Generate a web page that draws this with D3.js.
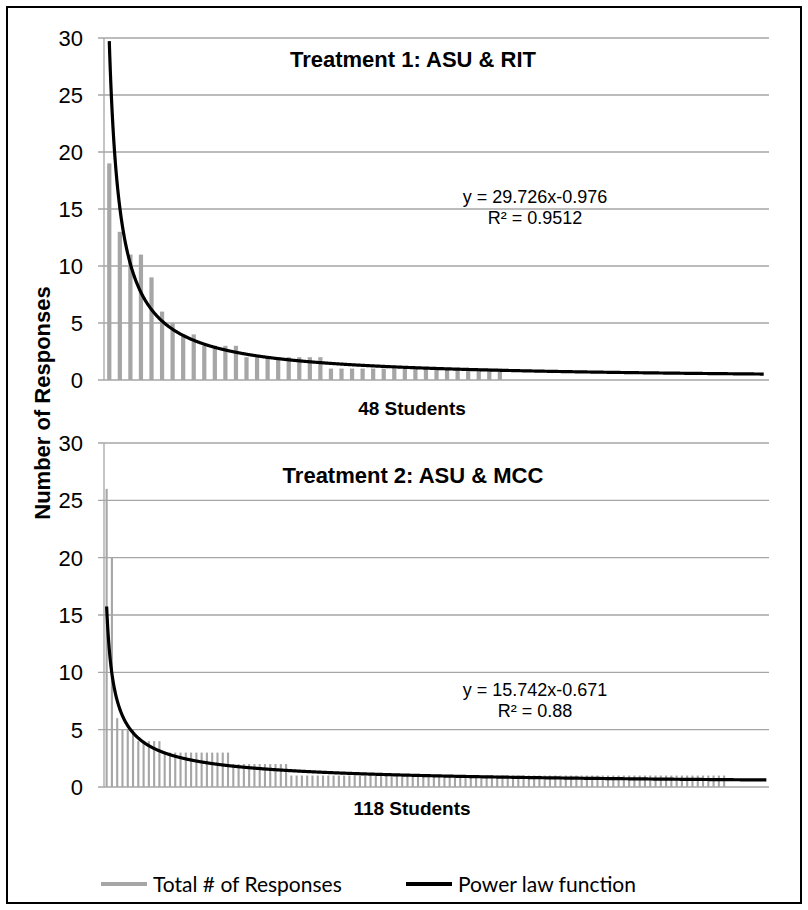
<!DOCTYPE html>
<html>
<head>
<meta charset="utf-8">
<script src="https://cdn.jsdelivr.net/npm/d3@7"></script>
<style>
  body { margin: 0; background: #fff; }
  svg { display: block; }
</style>
</head>
<body>
<svg id="chart" width="808" height="910"></svg>
<script>
// ── Data ───────────────────────────────────────────────
const yTicks = [0, 5, 10, 15, 20, 25, 30];

// Treatment 1 (ASU & RIT): responses per student, sorted
const topCounts = [19, 13, 11, 11, 9, 6, 5, 4, 4, 3, 3, 3, 3,
    2, 2, 2, 2, 2, 2, 2, 2,
    1, 1, 1, 1, 1, 1, 1, 1, 1, 1, 1, 1, 1, 1, 1, 1, 1];
const topSlots = 63;            // category slots on the x axis
const topFit = { a: 29.726, b: -0.976, r2: '0.9512' };

// Treatment 2 (ASU & MCC)
const bottomCounts = [26, 20, 6, 5, 5, 5, 4, 4, 4, 4, 4,
    3, 3, 3, 3, 3, 3, 3, 3, 3, 3, 3, 3, 3,
    2, 2, 2, 2, 2, 2, 2, 2, 2, 2, 2,
    1, 1, 1, 1, 1, 1, 1, 1, 1, 1, 1, 1, 1, 1, 1, 1, 1, 1, 1, 1,
    1, 1, 1, 1, 1, 1, 1, 1, 1, 1, 1, 1, 1, 1, 1, 1, 1, 1, 1, 1,
    1, 1, 1, 1, 1, 1, 1, 1, 1, 1, 1, 1, 1, 1, 1, 1, 1, 1, 1, 1,
    1, 1, 1, 1, 1, 1, 1, 1, 1, 1, 1, 1, 1, 1, 1, 1, 1, 1, 1, 1,
    1, 1, 1];
const bottomSlots = 126;
const bottomFit = { a: 15.742, b: -0.671, r2: '0.88' };

const panels = [
    { title: 'Treatment 1: ASU & RIT', xLabel: '48 Students', counts: topCounts,
      slots: topSlots, fit: topFit, top: 38, bottom: 380, titleY: 59, labelY: 408, eqY: 197 },
    { title: 'Treatment 2: ASU & MCC', xLabel: '118 Students', counts: bottomCounts,
      slots: bottomSlots, fit: bottomFit, top: 443, bottom: 787, titleY: 475, labelY: 808, eqY: 690 },
];

const GRID = '#a6a6a6';
const BAR = '#a6a6a6';
const FONT = 'Arial, "Liberation Sans", sans-serif';

const svg = d3.select('#chart');

// outer frame
svg.append('rect')
    .attr('x', 7).attr('y', 7).attr('width', 794).attr('height', 896)
    .attr('fill', '#fff').attr('stroke', '#000').attr('stroke-width', 2);

const left = 104, right = 769;

panels.forEach(function(p) {
    const g = svg.append('g');
    const y = d3.scaleLinear().domain([0, 30]).range([p.bottom, p.top]);
    const idx = d3.range(1, p.slots + 1);
    const x = d3.scaleBand().domain(idx).range([left, right]).paddingInner(0.6).paddingOuter(0.3);
    const xc = d3.scaleLinear().domain([0.5, p.slots + 0.5]).range([left, right]);

    // gridlines + tick stubs
    g.selectAll('line.grid').data(yTicks).join('line')
        .attr('x1', left - 6).attr('x2', right)
        .attr('y1', d => y(d)).attr('y2', d => y(d))
        .attr('stroke', GRID).attr('stroke-width', 1.3);

    g.append('line')
        .attr('x1', left).attr('x2', left)
        .attr('y1', y(30)).attr('y2', y(0))
        .attr('stroke', GRID).attr('stroke-width', 1.3);

    g.selectAll('text.tick').data(yTicks).join('text')
        .attr('x', 83).attr('y', d => y(d))
        .attr('dy', '0.36em')
        .attr('text-anchor', 'end')
        .attr('font-family', FONT).attr('font-size', 22)
        .attr('fill', '#000')
        .text(d => d);

    // bars
    g.selectAll('rect.bar').data(p.counts).join('rect')
        .attr('x', (d, i) => x(i + 1))
        .attr('width', x.bandwidth())
        .attr('y', d => y(d))
        .attr('height', d => y(0) - y(d))
        .attr('fill', BAR);

    // power-law trendline from the fitted equation
    const line = d3.line()
        .x(d => xc(d))
        .y(d => y(p.fit.a * Math.pow(d, p.fit.b)));
    const pts = d3.range(1, p.slots + 0.001, 0.05);
    g.append('path')
        .attr('d', line(pts))
        .attr('fill', 'none')
        .attr('stroke', '#000')
        .attr('stroke-width', 3.2);

    // title
    g.append('text')
        .attr('x', 413).attr('y', p.titleY)
        .attr('dy', '0.36em')
        .attr('text-anchor', 'middle')
        .attr('font-family', FONT).attr('font-weight', 'bold').attr('font-size', 22)
        .text(p.title);

    // equation
    g.append('text')
        .attr('x', 535).attr('y', p.eqY)
        .attr('dy', '0.36em')
        .attr('text-anchor', 'middle')
        .attr('font-family', FONT).attr('font-size', 18)
        .text('y = ' + p.fit.a + 'x' + p.fit.b);
    g.append('text')
        .attr('x', 535).attr('y', p.eqY + 21)
        .attr('dy', '0.36em')
        .attr('text-anchor', 'middle')
        .attr('font-family', FONT).attr('font-size', 18)
        .text('R\u00b2 = ' + p.fit.r2);

    // x label
    g.append('text')
        .attr('x', 412).attr('y', p.labelY)
        .attr('dy', '0.36em')
        .attr('text-anchor', 'middle')
        .attr('font-family', FONT).attr('font-weight', 'bold').attr('font-size', 19)
        .text(p.xLabel);
});

// y axis title
svg.append('text')
    .attr('transform', 'translate(42,403) rotate(-90)')
    .attr('dy', '0.36em')
    .attr('text-anchor', 'middle')
    .attr('font-family', FONT).attr('font-weight', 'bold').attr('font-size', 22)
    .text('Number of Responses');

// legend
const legend = [
    { label: 'Total # of Responses', color: BAR, w: 4, x: 101 },
    { label: 'Power law function', color: '#000', w: 4, x: 406 },
];
const lg = svg.append('g');
legend.forEach(function(l) {
    lg.append('line')
        .attr('x1', l.x).attr('x2', l.x + 46)
        .attr('y1', 884).attr('y2', 884)
        .attr('stroke', l.color).attr('stroke-width', l.w);
    lg.append('text')
        .attr('x', l.x + 52).attr('y', 884)
        .attr('dy', '0.36em')
        .attr('font-family', 'Lato, "Open Sans", sans-serif').attr('font-size', 21)
        .text(l.label);
});
</script>
</body>
</html>
